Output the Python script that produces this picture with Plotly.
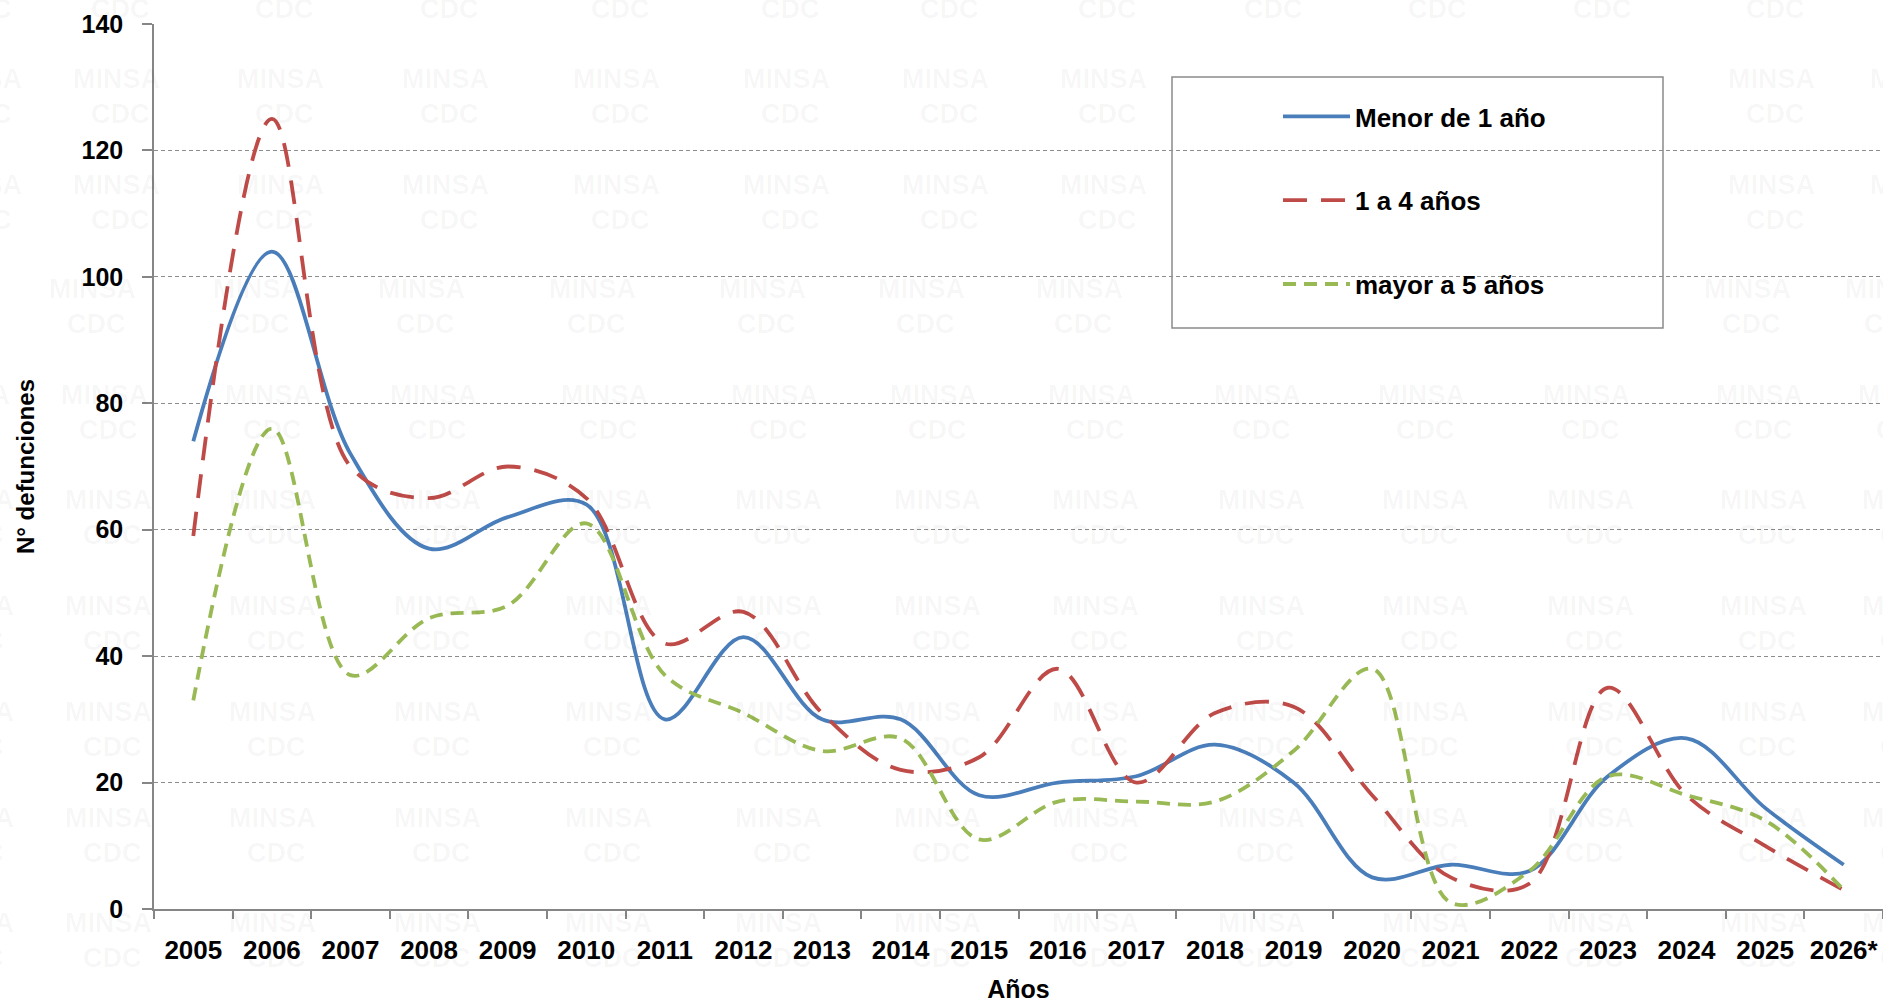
import plotly.graph_objects as go

# ---------------- data ----------------
years = ["2005", "2006", "2007", "2008", "2009", "2010", "2011", "2012", "2013", "2014",
         "2015", "2016", "2017", "2018", "2019", "2020", "2021", "2022", "2023", "2024",
         "2025", "2026*"]
menor_1 = [74, 104, 72, 57, 62, 64, 30, 43, 30, 30, 18, 20, 21, 26, 20, 5, 7, 6, 21, 27, 16, 7]
de_1_a_4 = [59, 125, 70, 65, 70, 65, 42, 47, 31, 22, 24, 38, 20, 31, 32, 18, 5, 4, 35, 18, 10, 3]
mayor_5 = [33, 76, 37, 46, 48, 61, 37, 31, 25, 27, 11, 17, 17, 17, 25, 38, 1, 6, 21, 18, 14, 3]

series_names = ["Menor de 1 año", "1 a 4 años", "mayor a 5 años"]
y_title = "N° defunciones"
x_title = "Años"
watermark_top = "MINSA"
watermark_bottom = "CDC"

# ---------------- layout geometry (pixels) ----------------
W, H = 1883, 1003
L, R, T, B = 154, 0, 24, 94
PW, PH = W - L - R, H - T - B
FONT = "Liberation Sans, Arial, sans-serif"
BOX = (1172, 77, 1663, 328)  # legend frame: left, top, right, bottom (px)


def px2paper(px, py):
    return (px - L) / PW, (H - B - py) / PH


fig = go.Figure()

styles = [
    dict(color="#4A7EBB", dash="solid"),
    dict(color="#BE4B48", dash="24px,14px"),
    dict(color="#98B954", dash="13px,8px"),
]
for name, vals, st in zip(series_names, [menor_1, de_1_a_4, mayor_5], styles):
    fig.add_trace(go.Scatter(
        x=years, y=vals, name=name, mode="lines", legendgroup=name,
        line=dict(color=st["color"], dash=st["dash"], width=3.8, shape="spline", smoothing=1.0),
        hoverinfo="x+y+name",
    ))

# ---------------- watermark ----------------
WM_COLOR = "rgba(0,0,0,0.04)"
wm_rows = [79, 185, 289, 395, 500, 606, 712, 818, 923]
wm_row_shift = [8, 8, -16, -4, 0, 0, 0, 0, 0]
wm_cols = [-30, 108, 272, 437, 608, 778, 937, 1095, 1261, 1425, 1590, 1763, 1905]
annotations = []


def wm(text, px, py):
    if BOX[0] - 20 < px < BOX[2] + 20 and BOX[1] < py < BOX[3]:
        return  # hidden behind the legend frame
    x, y = px2paper(px, py)
    annotations.append(dict(x=x, y=y, xref="paper", yref="paper", text=text,
                            xanchor="center", yanchor="middle", showarrow=False,
                            font=dict(family=FONT, size=27, weight="bold", color=WM_COLOR)))


for ry, sh in zip(wm_rows, wm_row_shift):
    for cx in wm_cols:
        wm(watermark_top, cx + sh, ry)
        wm(watermark_bottom, cx + sh + 4, ry + 35)
for cx in wm_cols:
    wm(watermark_bottom, cx + 12, 9)

# ---------------- legend box ----------------
bx0, by0 = px2paper(BOX[0], BOX[3])
bx1, by1 = px2paper(BOX[2], BOX[1])
shapes = [dict(type="rect", xref="paper", yref="paper", x0=bx0, y0=by0, x1=bx1, y1=by1,
               line=dict(color="#8a8a8a", width=1.5), fillcolor="white", layer="between")]

lx, ly = px2paper(1278, 93)

axis_col = "#868686"
fig.update_layout(
    width=W, height=H,
    margin=dict(l=L, r=R, t=T, b=B, pad=0),
    paper_bgcolor="white", plot_bgcolor="white",
    font=dict(family=FONT, color="black"),
    showlegend=True,
    legend=dict(x=lx, y=ly, xanchor="left", yanchor="top", bgcolor="rgba(0,0,0,0)",
                borderwidth=0, font=dict(family=FONT, size=26, weight="bold", color="black"),
                itemwidth=67, tracegroupgap=47, traceorder="grouped"),
    xaxis=dict(
        type="category", range=[-0.5, len(years) - 0.5], tickson="boundaries",
        ticks="outside", ticklen=8, tickwidth=1.5, tickcolor=axis_col,
        showline=True, linecolor=axis_col, linewidth=1.5, showgrid=False, zeroline=False,
        tickfont=dict(family=FONT, size=26, weight="bold", color="black"),
        ticklabelstandoff=17,
        title=dict(text=x_title, font=dict(family=FONT, size=25, weight="bold", color="black"),
                   standoff=20),
        automargin=False,
    ),
    yaxis=dict(
        range=[0, 140], dtick=20, tick0=0,
        ticks="outside", ticklen=10, tickwidth=1.5, tickcolor=axis_col,
        showline=True, linecolor=axis_col, linewidth=1.5,
        showgrid=True, gridcolor="#8c8c8c", gridwidth=1, griddash="4px,3px", zeroline=False,
        tickfont=dict(family=FONT, size=25, weight="bold", color="black"),
        ticklabelstandoff=14,
        title=dict(text=y_title, font=dict(family=FONT, size=24, weight="bold", color="black"),
                   standoff=40),
        automargin=False,
    ),
    shapes=shapes,
    annotations=annotations,
)

fig.write_html("out.html", config={"displayModeBar": False},
               post_script="document.body.style.margin='0';")
